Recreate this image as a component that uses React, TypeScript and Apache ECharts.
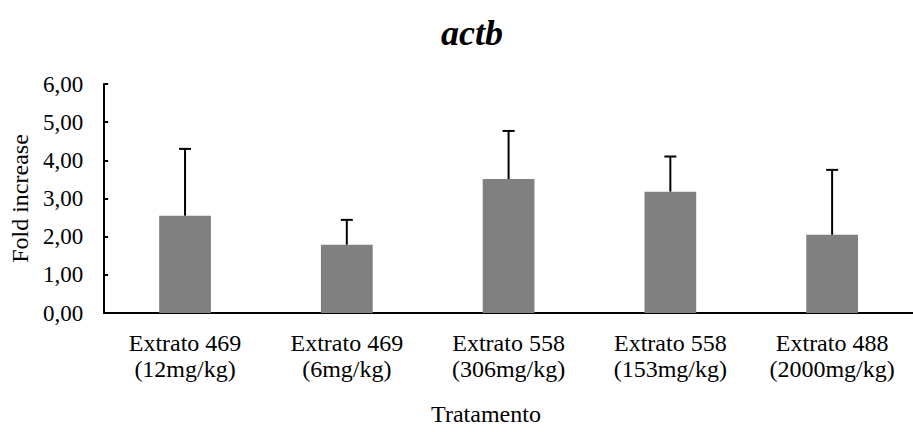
import React, { useEffect, useRef } from "react";
import * as echarts from "echarts";

const categories = [
  "Extrato 469\n(12mg/kg)",
  "Extrato 469\n(6mg/kg)",
  "Extrato 558\n(306mg/kg)",
  "Extrato 558\n(153mg/kg)",
  "Extrato 488\n(2000mg/kg)",
];
const foldIncrease = [2.55, 1.79, 3.51, 3.18, 2.05];
const errorTop = [4.3, 2.44, 4.77, 4.1, 3.75];
const yTicks = { min: 0, max: 6, interval: 1 };

const FONT = "'Liberation Serif', 'Times New Roman', serif";

export default function App() {
  const ref = useRef<HTMLDivElement>(null);

  useEffect(() => {
    if (!ref.current) return;
    const chart = echarts.init(ref.current, undefined, { renderer: "svg" });
    chart.setOption({
      animation: false,
      backgroundColor: "#ffffff",
      title: [
        {
          text: "actb",
          left: 467,
          top: 10,
          textAlign: "center",
          textStyle: {
            fontFamily: FONT,
            fontSize: 36,
            fontStyle: "italic",
            fontWeight: "bold",
            color: "#000",
          },
        },
        {
          text: "Tratamento",
          left: 486,
          top: 401,
          padding: 0,
          textAlign: "center",
          textStyle: {
            fontFamily: FONT,
            fontSize: 24,
            lineHeight: 26,
            fontWeight: "normal",
            color: "#000",
          },
        },
      ],
      grid: { left: 104, right: -10, top: 84, bottom: 119, containLabel: false },
      xAxis: {
        type: "category",
        data: categories,
        axisLine: { lineStyle: { color: "#000", width: 2 } },
        axisTick: { inside: true, length: 6, lineStyle: { color: "#000", width: 2 } },
        axisLabel: {
          interval: 0,
          margin: 17,
          lineHeight: 26,
          fontFamily: FONT,
          fontSize: 24,
          color: "#000",
        },
      },
      yAxis: {
        type: "value",
        min: yTicks.min,
        max: yTicks.max,
        interval: yTicks.interval,
        name: "Fold increase",
        nameLocation: "middle",
        nameGap: 72,
        nameTextStyle: { fontFamily: FONT, fontSize: 24, color: "#000" },
        axisLine: { show: true, lineStyle: { color: "#000", width: 2 } },
        axisTick: { show: true, inside: true, length: 4, lineStyle: { color: "#000", width: 2 } },
        splitLine: { show: false },
        axisLabel: {
          margin: 21,
          fontFamily: FONT,
          fontSize: 23,
          color: "#000",
          formatter: (v: number) => v.toFixed(2).replace(".", ","),
        },
      },
      series: [
        {
          type: "bar",
          data: foldIncrease,
          barWidth: "32%",
          itemStyle: { color: "#808080" },
          z: 2,
        },
        {
          type: "custom",
          data: foldIncrease.map((v, i) => [i, v, errorTop[i]]),
          z: 3,
          renderItem: (_params: any, api: any) => {
            const base = api.coord([api.value(0), api.value(1)]);
            const top = api.coord([api.value(0), api.value(2)]);
            const half = 6;
            const style = { stroke: "#000", lineWidth: 2 };
            return {
              type: "group",
              children: [
                { type: "line", shape: { x1: base[0], y1: base[1], x2: top[0], y2: top[1] }, style },
                { type: "line", shape: { x1: top[0] - half, y1: top[1], x2: top[0] + half, y2: top[1] }, style },
              ],
            };
          },
        },
      ],
    });
    return () => chart.dispose();
  }, []);

  return (
    <div
      ref={ref}
      style={{ position: "fixed", left: 0, top: 0, width: 913, height: 432 }}
    />
  );
}
